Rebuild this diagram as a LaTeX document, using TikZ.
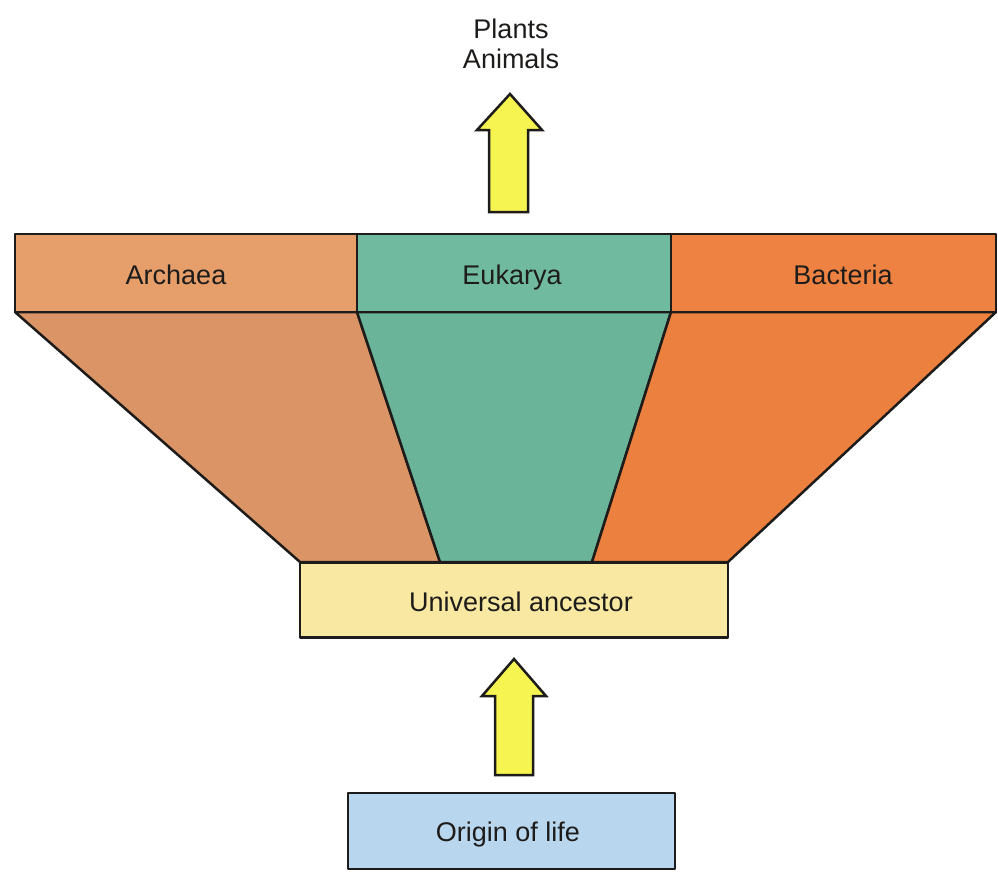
\documentclass[tikz,border=0pt]{standalone}
\usepackage{fontspec}
\setmainfont{Liberation Sans}
\definecolor{archband}{RGB}{230,158,106}
\definecolor{archtrap}{RGB}{218,148,102}
\definecolor{eukband}{RGB}{112,186,160}
\definecolor{euktrap}{RGB}{106,180,154}
\definecolor{bactband}{RGB}{238,130,66}
\definecolor{bacttrap}{RGB}{236,128,62}
\definecolor{uacol}{RGB}{248,232,162}
\definecolor{origcol}{RGB}{184,214,238}
\definecolor{arrowyellow}{RGB}{246,244,80}
\definecolor{ink}{RGB}{30,28,26}
\begin{document}
\begin{tikzpicture}[x=1pt,y=-1pt,line join=round,
  lbl/.style={font=\fontsize{27}{30}\selectfont, text=ink},
  box/.style={draw=ink, line width=2.5pt, inner sep=0pt, lbl},
  trap/.style={draw=ink, line width=2.5pt},
  blockarrow/.style={draw=ink, line width=2.5pt, fill=arrowyellow, line join=miter}]
\useasboundingbox (0,0) rectangle (998,873);
% trapezoids
\path[trap, fill=archtrap] (15,312) -- (357,312) -- (440,562) -- (300,562) -- cycle;
\path[trap, fill=euktrap] (357,312) -- (671,312) -- (592,562) -- (440,562) -- cycle;
\path[trap, fill=bacttrap] (671,312) -- (996,312) -- (728,562) -- (592,562) -- cycle;
% domain bands
\node[box, fill=archband, minimum width=342pt, minimum height=78pt] (arch) at (186,273) {};
\node[box, fill=eukband, minimum width=314pt, minimum height=78pt] (euk) at (514,273) {};
\node[box, fill=bactband, minimum width=325pt, minimum height=78pt] (bact) at (833.5,273) {};
\node[lbl, anchor=base] (archt) at (176,284) {Archaea};
\node[lbl, anchor=base] (eukt) at (512,284) {Eukarya};
\node[lbl, anchor=base] (bactt) at (843,284) {Bacteria};
% universal ancestor
\node[box, fill=uacol, minimum width=428pt, minimum height=75pt] (ua) at (514,600) {};
\node[lbl, anchor=base] (uat) at (521,611) {Universal ancestor};
% origin of life
\node[box, fill=origcol, minimum width=327pt, minimum height=76pt] (orig) at (511.5,831) {};
\node[lbl, anchor=base] (origt) at (508,841) {Origin of life};
% top label
\node[lbl, align=center] (pa) at (511,44) {Plants\\Animals};
% block arrows
\draw[blockarrow] (489,212) -- (489,130) -- (477,130) -- (510,94) -- (542,130) -- (528,130) -- (528,212) -- cycle;
\draw[blockarrow] (495,775) -- (495,696) -- (482,696) -- (514,659) -- (546,696) -- (533,696) -- (533,775) -- cycle;
\end{tikzpicture}
\end{document}
